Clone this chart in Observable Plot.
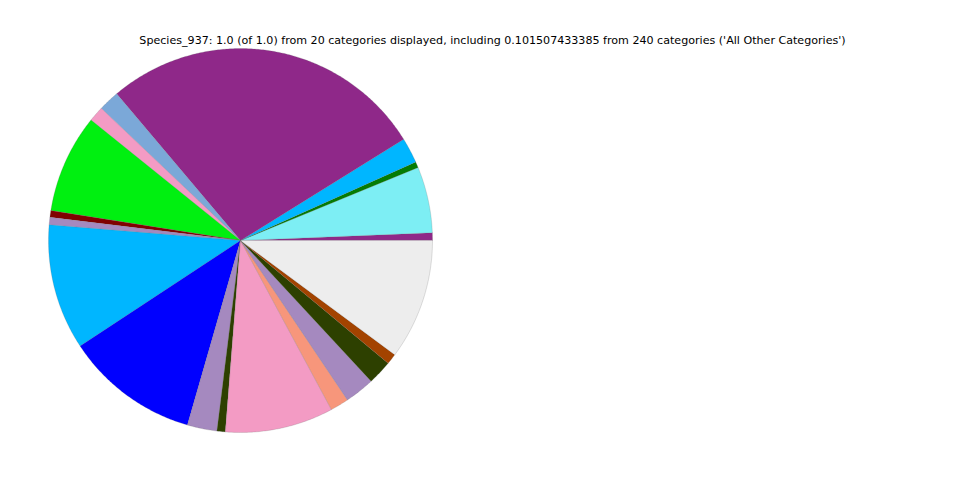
<!DOCTYPE html>
<html><head><meta charset="utf-8">
<script src="https://cdn.jsdelivr.net/npm/d3@7"></script>
<script src="https://cdn.jsdelivr.net/npm/@observablehq/plot@0.6"></script>
<style>
body{margin:0;background:#fff;}
#wrap{position:relative;width:960px;height:480px;overflow:hidden;}
#wrap svg{display:block;}
#title{position:absolute;top:34px;left:0;width:985px;text-align:center;font-family:"DejaVu Sans";font-size:11.1px;line-height:13px;color:#000;white-space:nowrap;}
</style></head><body><div id="wrap"><div id="title"></div></div>
<script>
const titleText = "Species_937: 1.0 (of 1.0) from 20 categories displayed, including 0.101507433385 from 240 categories ('All Other Categories')";

const categories = ["Category 1","Category 2","Category 3","Category 4","Category 5","Category 6","Category 7","Category 8","Category 9","Category 10","Category 11","Category 12","Category 13","Category 14","Category 15","Category 16","Category 17","Category 18","Category 19","All Other Categories"];
const values = [0.0064,0.0556,0.0050,0.0213,0.2733,0.0176,0.0128,0.0830,0.0057,0.0063,0.1057,0.1127,0.0250,0.0070,0.0911,0.0155,0.0250,0.0206,0.0089,0.1015];
const colors = ["#8f2889","#7deef4","#047c04","#00b6ff","#8f2889","#7ba8d8","#f39bc4","#00f010","#800000","#a589bf","#00b6ff","#0000ff","#a589bf","#2d4000","#f39bc4","#f7967b","#a589bf","#2d4000","#a34300","#ededed"];

document.getElementById("title").textContent = titleText;

const total = d3.sum(values);
let cum = 0;
const features = values.map((v, i) => {
  const a0 = 2 * Math.PI * cum / total;
  cum += v;
  const a1 = 2 * Math.PI * cum / total;
  const n = Math.max(2, Math.ceil((a1 - a0) / (Math.PI / 360)));
  const ring = [[0, 0]];
  for (let k = 0; k <= n; k++) {
    const a = a0 + (a1 - a0) * k / n;
    ring.push([Math.cos(a), Math.sin(a)]);
  }
  ring.push([0, 0]);
  return {type: "Feature", properties: {name: categories[i], value: v, color: colors[i]}, geometry: {type: "Polygon", coordinates: [ring]}};
});
const fc = {type: "FeatureCollection", features};

const chart = Plot.plot({
  width: 960,
  height: 480,
  marginLeft: 48,
  marginRight: 528,
  marginTop: 48,
  marginBottom: 48,
  projection: {type: "reflect-y", domain: fc},
  color: {type: "identity"},
  marks: [
    Plot.geo(fc.features, {fill: d => d.properties.color, stroke: "#666", strokeWidth: 0.4, strokeOpacity: 0.5})
  ]
});
document.getElementById("wrap").appendChild(chart);
</script>
</body></html>
